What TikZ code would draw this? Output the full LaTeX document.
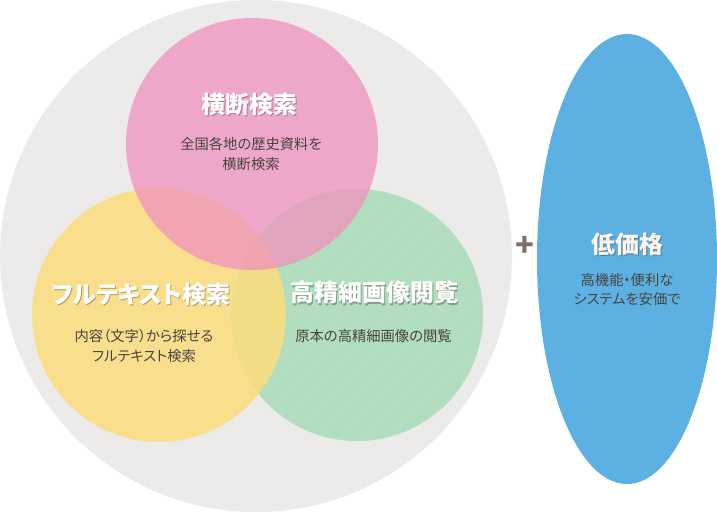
\documentclass[tikz,border=0pt]{standalone}
\usepackage{fontspec}
\usetikzlibrary{patterns}
\newfontfamily\jpfont[RawFeature=+palt]{Noto Sans CJK JP}
\definecolor{bggray}{RGB}{236,235,233}
\definecolor{vpink}{RGB}{240,143,189}
\definecolor{vyellow}{RGB}{252,221,124}
\definecolor{vgreen}{RGB}{169,219,184}
\definecolor{vblue}{RGB}{93,177,226}
\definecolor{subtext}{RGB}{74,68,64}
\definecolor{plusbrown}{RGB}{122,110,102}

\begin{document}
\begin{tikzpicture}[x=1pt, y=-1pt,
  title/.style={text=white, font=\jpfont\bfseries\fontsize{24}{28}\selectfont},
  tshadow/.style={text=black, opacity=0.28, font=\jpfont\bfseries\fontsize{24}{28}\selectfont},
  sub/.style={text=subtext, align=center, font=\jpfont\fontsize{14.3}{19.5}\selectfont}]
\useasboundingbox (0,0) rectangle (717,512);
\fill[bggray] (256,256) ellipse [x radius=256, y radius=256];
\fill[vgreen] (357,315) circle [radius=126];
\fill[pattern=north east lines, pattern color=white, opacity=0.3] (357,315) circle [radius=126];
\fill[vyellow, fill opacity=0.85] (159,315) circle [radius=127];
\fill[pattern=dots, pattern color=white, opacity=0.2] (159,315) circle [radius=127];
\fill[vpink, fill opacity=0.75] (252,144) circle [radius=126];
\fill[pattern=crosshatch dots, pattern color=white, opacity=0.15] (252,144) circle [radius=126];
\fill[vblue] (627,259) ellipse [x radius=90, y radius=225];

\node[tshadow] (odan-sh) at (250,105.5) {横断検索};
\node[title] (odan) at (249,104) {横断検索};
\node[sub] (odan-txt) at (251,154) {全国各地の歴史資料を\\横断検索};

\node[tshadow] (full-sh) at (142,295.5) {フルテキスト検索};
\node[title] (full) at (141,294) {フルテキスト検索};
\node[sub] (full-txt) at (144,346) {内容（文字）から探せる\\フルテキスト検索};

\node[tshadow] (koseisai-sh) at (375,294) {高精細画像閲覧};
\node[title] (koseisai) at (374,292.5) {高精細画像閲覧};
\node[sub] (koseisai-txt) at (373.5,336.5) {原本の高精細画像の閲覧};

\node[text=plusbrown, font=\jpfont\bfseries\fontsize{31}{34}\selectfont] (plus) at (524.5,246) {+};

\node[tshadow] (teikakaku-sh) at (628.5,245.5) {低価格};
\node[title, text=white!92!orange] (teikakaku) at (627.5,244) {低価格};
\node[sub] (teikakaku-txt) at (627,289.5) {高機能・便利な\\システムを安価で};
\end{tikzpicture}
\end{document}
